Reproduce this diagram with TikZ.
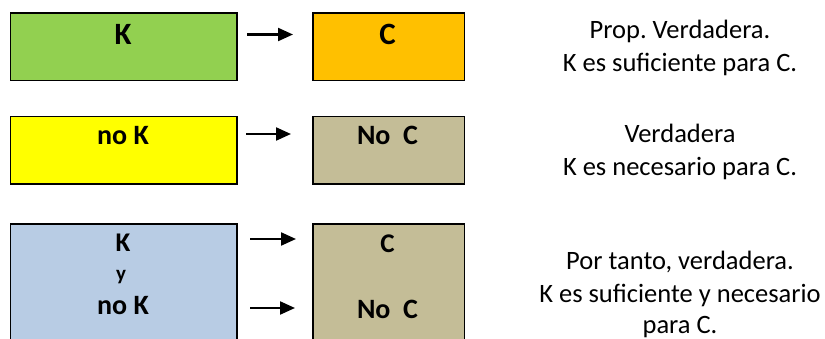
\documentclass[tikz,border=0pt]{standalone}
\usepackage{fontspec}
\setmainfont{Carlito}
\usetikzlibrary{arrows.meta}
\definecolor{cgreen}{HTML}{92D050}
\definecolor{corange}{HTML}{FFC000}
\definecolor{cyellow}{HTML}{FFFF00}
\definecolor{ctan}{HTML}{C4BD97}
\definecolor{cblue}{HTML}{B8CCE4}
\frenchspacing
\begin{document}
\begin{tikzpicture}[x=1pt,y=-1pt,
  box/.style={draw=black, line width=1.5pt, inner sep=0pt, anchor=north west, minimum height=67.5pt},
  wide/.style={box, minimum width=226.5pt},
  narrow/.style={box, minimum width=151.5pt},
  lbl/.style={anchor=base, inner sep=0pt, font=\bfseries\fontsize{#1}{#1}\selectfont},
  note/.style={anchor=base, inner sep=0pt, font=\fontsize{26.5}{28}\selectfont},
  arr/.style={-{Triangle[length=15pt,width=13pt]}, line width=2.2pt}]
\useasboundingbox (0,0) rectangle (825,339);
\begin{scope}
\clip (0,0) rectangle (825,339);
% row 1
\node[wide, fill=cgreen] (k1) at (9.5,12.5) {};
\node[narrow, fill=corange] (c1) at (312,12.5) {};
% row 2
\node[wide, fill=cyellow] (k2) at (9.5,116) {};
\node[narrow, fill=ctan] (c2) at (312,116) {};
% row 3
\node[wide, fill=cblue, minimum height=130pt] (k3) at (9.5,223.3) {};
\node[narrow, fill=ctan, minimum height=130pt] (c3) at (312,223.3) {};
\end{scope}
% labels
\node[lbl=31] (tk1) at (123,45) {K};
\node[lbl=31] (tc1) at (387.5,45) {C};
\node[lbl=28] (tk2) at (123,145) {no K};
\node[lbl=28] (tc2) at (387.5,145) {No\ \ C};
\node[lbl=27] (tk3) at (123,252) {K};
\node[lbl=21] (ty3) at (121,280) {y};
\node[lbl=28] (tn3) at (123,314) {no K};
\node[lbl=27] (tc3) at (387.5,252.3) {C};
\node[lbl=28] (td3) at (387.5,319) {No\ \ C};
% arrows
\coordinate (a1s) at (247,34.5); \coordinate (a1e) at (293,34.5);
\coordinate (a2s) at (246,134); \coordinate (a2e) at (291,134);
\coordinate (a3s) at (250,239); \coordinate (a3e) at (296,239);
\coordinate (a4s) at (250,308); \coordinate (a4e) at (295,308);
\draw[arr] (a1s) -- (a1e);
\draw[arr] (a2s) -- (a2e);
\draw[arr] (a3s) -- (a3e);
\draw[arr] (a4s) -- (a4e);
% notes
\node[note] (n11) at (680,39) {Prop. Verdadera.};
\node[note] (n12) at (680,72) {K es suficiente para C.};
\node[note] (n21) at (680,143) {Verdadera};
\node[note] (n22) at (680,176) {K es necesario para C.};
\node[note] (n31) at (680,270) {Por tanto, verdadera.};
\node[note] (n32) at (680,302) {K es suficiente y necesario};
\node[note] (n33) at (680,333) {para C.};
\end{tikzpicture}
\end{document}
